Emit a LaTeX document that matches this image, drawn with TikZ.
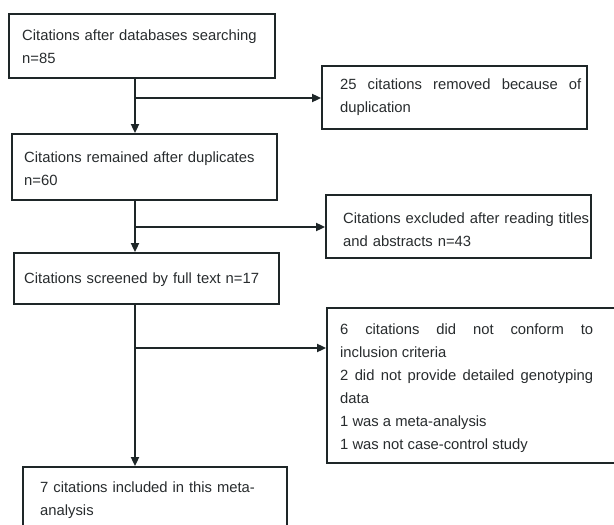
\documentclass[tikz,border=0pt]{standalone}
\usepackage{fontspec}
\setmainfont{Liberation Sans}
\usepackage{xcolor}
\usetikzlibrary{arrows.meta}
\definecolor{boxline}{RGB}{30,38,40}
\definecolor{boxtext}{RGB}{40,44,46}
\setlength{\parindent}{0pt}

\begin{document}
\begin{tikzpicture}[x=1pt, y=-1pt,
  flowbox/.style={draw=boxline, line width=1.8pt, rectangle, inner sep=0pt},
  flowtext/.style={inner sep=0pt, text=boxtext, anchor=west,
    font=\fontsize{14.8}{23}\selectfont},
  flowarrow/.style={draw=boxline, line width=1.8pt, -{Triangle[length=9pt,width=8pt]}}]

\useasboundingbox (0,0) rectangle (614,525);
\clip (0,0) rectangle (614,525);
\fill[white] (0,0) rectangle (614,525);

\node[flowbox, minimum width=266pt, minimum height=64pt] (search) at (142,46) {};
\node[flowtext, text width=240pt, align=left] (searcht) at (22,46.5)
  {Citations after databases searching\\n=85};

\node[flowbox, minimum width=265pt, minimum height=63pt] (dup) at (454.5,97.5) {};
\node[flowtext, text width=241pt, align=justify] (dupt) at (340,97)
  {25 citations removed because of\linebreak duplication};

\node[flowbox, minimum width=265pt, minimum height=66pt] (remain) at (144.5,167) {};
\node[flowtext, text width=240pt, align=left] (remaint) at (24,168.5)
  {Citations remained after duplicates\\n=60};

\node[flowbox, minimum width=265pt, minimum height=63pt] (excl) at (458.5,226.5) {};
\node[flowtext, text width=246pt, align=left] (exclt) at (343,230)
  {Citations excluded after reading titles\\and abstracts n=43};

\node[flowbox, minimum width=265pt, minimum height=51pt] (full) at (146.5,278.5) {};
\node[flowtext, text width=240pt, align=left] (fullt) at (24,280)
  {Citations screened by full text n=17};

\node[flowbox, minimum width=298pt, minimum height=155pt] (reasons) at (476,385.5) {};
\node[flowtext, text width=253pt, align=justify] (reasonst) at (340,388.5)
  {6 citations did not conform to\linebreak inclusion criteria\par
   2 did not provide detailed genotyping\linebreak data\par
   1 was a meta-analysis\par
   1 was not case-control study};

\node[flowbox, minimum width=264pt, minimum height=66pt] (incl) at (155,500) {};
\node[flowtext, text width=240pt, align=left] (inclt) at (40,500)
  {7 citations included in this meta-\\analysis};

\coordinate (j1) at (135,98);
\coordinate (j2) at (135,227);
\coordinate (j3) at (135,348);

\path[flowarrow] (search.south -| j1) -- (remain.north -| j1);
\path[flowarrow] (j1) -- (j1 -| dup.west);
\path[flowarrow] (remain.south -| j2) -- (full.north -| j2);
\path[flowarrow] (j2) -- (j2 -| excl.west);
\path[flowarrow] (full.south -| j3) -- (incl.north -| j3);
\path[flowarrow] (j3) -- (j3 -| reasons.west);

\end{tikzpicture}
\end{document}
